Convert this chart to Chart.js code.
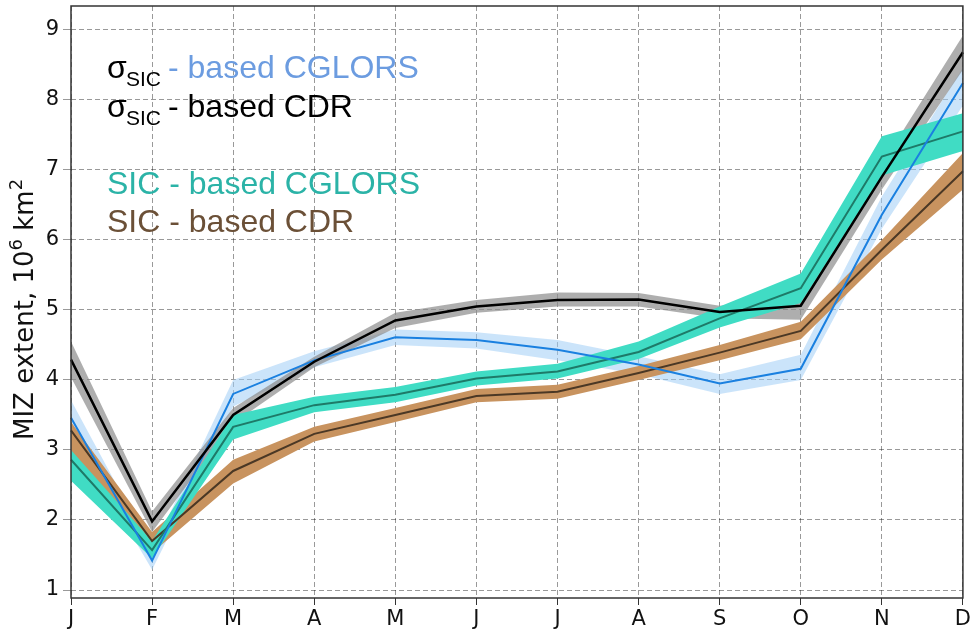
<!DOCTYPE html>
<html>
<head>
<meta charset="utf-8">
<script src="https://cdn.jsdelivr.net/npm/chart.js@4/dist/chart.umd.min.js"></script>
<style>
  body { margin: 0; background: #fff; }
  #wrap { width: 973px; height: 634px; }
</style>
</head>
<body>
<div id="wrap"><canvas id="MizChart" width="973" height="634"></canvas></div>
<script>
const months = ["J", "F", "M", "A", "M", "J", "J", "A", "S", "O", "N", "D"];
const yTicks = [1, 2, 3, 4, 5, 6, 7, 8, 9];

// sigma_SIC - based CDR (black, grey spread)
const cdrSigma = [4.29, 1.98, 3.50, 4.26, 4.85, 5.05, 5.14, 5.15, 4.97, 5.06, 6.90, 8.68];
const cdrSigmaHi = [4.55, 2.12, 3.60, 4.33, 4.96, 5.14, 5.25, 5.24, 5.06, 5.17, 7.08, 8.92];
const cdrSigmaLo = [4.04, 1.83, 3.38, 4.18, 4.74, 4.96, 5.05, 5.05, 4.88, 4.86, 6.72, 8.43];

// sigma_SIC - based CGLORS (blue)
const cglSigma = [3.46, 1.42, 3.80, 4.28, 4.61, 4.57, 4.43, 4.22, 3.95, 4.16, 6.36, 8.24];
const cglSigmaHi = [3.71, 1.56, 4.00, 4.41, 4.72, 4.68, 4.57, 4.34, 4.08, 4.36, 6.62, 8.46];
const cglSigmaLo = [3.26, 1.29, 3.62, 4.18, 4.50, 4.45, 4.28, 4.08, 3.80, 4.00, 6.16, 7.92];

// SIC - based CGLORS (teal)
const cglSic = [2.86, 1.57, 3.33, 3.64, 3.79, 4.02, 4.12, 4.40, 4.88, 5.31, 7.19, 7.55];
const cglSicHi = [3.00, 1.70, 3.50, 3.76, 3.90, 4.12, 4.23, 4.55, 5.05, 5.52, 7.48, 7.81];
const cglSicLo = [2.56, 1.45, 3.15, 3.54, 3.68, 3.92, 4.02, 4.30, 4.75, 5.10, 6.92, 7.27];

// SIC - based CDR (brown)
const cdrSic = [3.28, 1.70, 2.70, 3.23, 3.50, 3.77, 3.83, 4.10, 4.39, 4.70, 5.86, 6.98];
const cdrSicHi = [3.40, 1.83, 2.86, 3.33, 3.60, 3.87, 3.93, 4.20, 4.50, 4.83, 6.00, 7.24];
const cdrSicLo = [2.99, 1.53, 2.52, 3.12, 3.40, 3.68, 3.73, 4.00, 4.28, 4.58, 5.72, 6.72];

const tickFont = { family: "DejaVu Sans", size: 21 };
const gridGrey = "rgba(0,0,0,0.4)";

function band(data, color, fillTo, order) {
  return {
    data: data,
    borderWidth: 0,
    borderColor: "rgba(0,0,0,0)",
    backgroundColor: color,
    pointRadius: 0,
    fill: fillTo,
    tension: 0,
    order: order,
  };
}
function line(data, color, width, order) {
  return {
    data: data,
    borderColor: color,
    borderWidth: width,
    pointRadius: 0,
    fill: false,
    tension: 0,
    order: order,
  };
}

// writes runs of text one after another, some raised or lowered
function drawRuns(c, x, y, runs) {
  runs.forEach((r) => {
    c.font = r.font;
    c.fillStyle = r.color || "#111";
    c.fillText(r.text, x, y + (r.dy || 0));
    x += c.measureText(r.text).width + (r.gap || 0);
  });
}

// frame round the plot, y title with superscripts, and the text key
const framePlugin = {
  id: "frameAndKey",
  afterDraw(chart) {
    const c = chart.ctx;
    const a = chart.chartArea;
    c.save();
    c.strokeStyle = "#333";
    c.lineWidth = 1.5;
    c.strokeRect(a.left, a.top, a.right - a.left, a.bottom - a.top);

    c.textBaseline = "alphabetic";
    c.textAlign = "left";

    // y axis title
    c.save();
    c.translate(33, 440);
    c.rotate(-Math.PI / 2);
    const tf = '26px "DejaVu Sans"';
    const sf = '18px "DejaVu Sans"';
    drawRuns(c, 0, 0, [
      { text: "MIZ extent, 10", font: tf },
      { text: "6", font: sf, dy: -11 },
      { text: " km", font: tf },
      { text: "2", font: sf, dy: -11 },
    ]);
    c.restore();

    const big = '32px "Liberation Sans", Arial, sans-serif';
    const small = '21px "Liberation Sans", Arial, sans-serif';
    const keys = [
      { y: 78, sigma: true, text: "- based CGLORS", color: "#6c9ce0" },
      { y: 117, sigma: true, text: "- based CDR", color: "#000" },
      { y: 194, sigma: false, text: "SIC - based CGLORS", color: "#2bb3a7" },
      { y: 232, sigma: false, text: "SIC - based CDR", color: "#6b5037" },
    ];
    keys.forEach((k) => {
      let x = 107;
      if (k.sigma) {
        c.fillStyle = "#000";
        c.font = big;
        c.fillText("σ", x, k.y);
        c.font = small;
        c.fillText("SIC", 126, k.y + 8);
        x = 168;
      }
      c.font = big;
      c.fillStyle = k.color;
      c.fillText(k.text, x, k.y);
    });
    c.restore();
  },
};

const ctx = document.getElementById("MizChart").getContext("2d");
new Chart(ctx, {
  type: "line",
  data: {
    labels: months,
    datasets: [
      band(cglSigmaHi, "rgba(160,205,245,0.55)", "+1", 10),
      band(cglSigmaLo, "rgba(0,0,0,0)", false, 10),
      band(cdrSigmaHi, "rgba(140,140,140,0.7)", "+1", 9),
      band(cdrSigmaLo, "rgba(0,0,0,0)", false, 9),
      band(cdrSicHi, "#c8935f", "+1", 8),
      band(cdrSicLo, "rgba(0,0,0,0)", false, 8),
      band(cglSicHi, "#40dcc4", "+1", 7),
      band(cglSicLo, "rgba(0,0,0,0)", false, 7),
      line(cdrSic, "#4b3825", 2, 4),
      line(cglSic, "#1e7a68", 2, 3),
      line(cglSigma, "#1a80e0", 2, 2),
      line(cdrSigma, "#000", 2.5, 1),
    ],
  },
  options: {
    responsive: false,
    animation: false,
    layout: { padding: { top: 6, right: 10, left: 0, bottom: 0 } },
    plugins: {
      legend: { display: false },
      tooltip: { enabled: false },
    },
    scales: {
      x: {
        offset: false,
        grid: {
          color: gridGrey,
          lineWidth: 1,
          tickLength: 7,
          tickColor: "#333",
        },
        border: { display: false, dash: [5, 3] },
        ticks: { color: "#111", font: tickFont, padding: 2, maxRotation: 0, autoSkip: false },
        afterFit(scale) {
          scale.height = 36;
        },
      },
      y: {
        min: 0.886,
        max: 9.34,
        grid: {
          color: gridGrey,
          lineWidth: 1,
          tickLength: 8,
          tickColor: gridGrey,
        },
        border: { display: false, dash: [5, 3] },
        ticks: { color: "#111", font: tickFont, padding: 4 },
        afterBuildTicks(scale) {
          scale.ticks = yTicks.map((v) => ({ value: v }));
        },
        afterFit(scale) {
          scale.width = 71;
          scale.paddingTop = 0;
          scale.paddingBottom = 0;
        },
      },
    },
  },
  plugins: [framePlugin],
});
</script>
</body>
</html>
